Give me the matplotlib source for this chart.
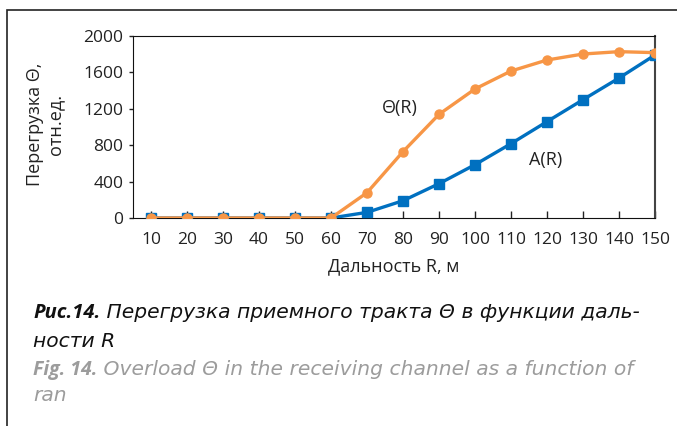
import numpy as np
import matplotlib

matplotlib.use("Agg")
import matplotlib.pyplot as plt
from matplotlib import font_manager
from matplotlib.patches import Rectangle

# data
ranges = [10, 20, 30, 40, 50, 60, 70, 80, 90, 100, 110, 120, 130, 140, 150]
theta_values = [0, 0, 0, 0, 0, 0, 278, 729, 1139, 1418, 1615, 1736, 1802, 1828, 1817]
a_values = [0, 0, 0, 0, 0, 0, 62, 190, 377, 586, 817, 1059, 1300, 1538, 1791]
y_ticks = [0, 400, 800, 1200, 1600, 2000]

caption_ru_bold = "Рис.14."
caption_ru_rest = " Перегрузка приемного тракта Θ в функции даль-"
caption_ru_line2 = "ности R"
caption_en_bold = "Fig. 14."
caption_en_rest = " Overload Θ in the receiving channel as a function of"
caption_en_line2 = "ran"

BLUE = "#0070C0"
ORANGE = "#F79646"
GREY = "#9C9C9C"
INK = "#222222"

installed = {f.name for f in font_manager.fontManager.ttflist}
plot_font = "Open Sans" if "Open Sans" in installed else "DejaVu Sans"
bold_font = plot_font
rest_font = "DejaVu Sans"
REST_SIZE = 14.6

plt.rcParams["font.family"] = [plot_font, "DejaVu Sans"]

W, H = 677, 426
fig = plt.figure(figsize=(W / 100, H / 100), dpi=100)

# outer frame (open at right/bottom edges like the scan)
fig.patches.append(Rectangle((7 / W, -0.05), 1.1, 1.05 - 10 / H, transform=fig.transFigure,
                             fill=False, edgecolor="#222222", linewidth=1.2))

ax = fig.add_axes([133 / W, 1 - 218 / H, (655 - 133) / W, (218 - 36) / H])

ax.plot(ranges, a_values, color=BLUE, linewidth=2.4, marker="s", markersize=6.5,
        zorder=3)
ax.plot(ranges, theta_values, color=ORANGE, linewidth=2.4, marker="o", markersize=6.5,
        zorder=4)

ax.set_xlim(5, 150)
ax.set_ylim(0, 2000)
ax.set_xticks(ranges)
ax.set_yticks(y_ticks)
ax.tick_params(axis="x", direction="in", length=5, width=1, labelsize=12.5, pad=10,
               colors=INK)
ax.tick_params(axis="y", direction="out", length=3, width=1, labelsize=12.5, pad=4,
               colors=INK)
for side in ["left", "bottom", "top"]:
    ax.spines[side].set_color("#111111")
ax.spines["right"].set_color("#444444")
ax.spines["right"].set_linewidth(1.5)

ax.set_xlabel("Дальность R, м", fontsize=13, labelpad=7, color=INK)
ax.set_ylabel("Перегрузка Θ,\nотн.ед.", fontsize=13, color=INK, linespacing=1.15)
ax.yaxis.label.set_va("center")
ax.yaxis.set_label_coords(-0.169, 0.516)

ax.text(79, 1209, "Θ(R)", fontsize=13, color=INK, ha="center", va="center")
ax.text(119.5, 637, "A(R)", fontsize=13, color=INK, ha="center", va="center")

# caption
fig.canvas.draw()
renderer = fig.canvas.get_renderer()


def caption_line(x_px, y_px, bold_text, bold_size, rest_text, color):
    t = fig.text(x_px / W, 1 - y_px / H, bold_text, fontsize=bold_size, fontweight="bold",
                 fontstyle="italic", family=bold_font, color=color, va="baseline")
    bb = t.get_window_extent(renderer)
    fig.text(bb.x1 / W, 1 - y_px / H, rest_text, fontsize=REST_SIZE, fontstyle="italic",
             family=rest_font, color=color, va="baseline")


caption_line(33, 318, caption_ru_bold, 14.5, caption_ru_rest, "#111111")
fig.text(33 / W, 1 - 347 / H, caption_ru_line2, fontsize=REST_SIZE, fontstyle="italic",
         family=rest_font, color="#111111", va="baseline")
caption_line(33, 375, caption_en_bold, 14, caption_en_rest, GREY)
fig.text(33 / W, 1 - 401 / H, caption_en_line2, fontsize=REST_SIZE, fontstyle="italic",
         family=rest_font, color=GREY, va="baseline")

fig.savefig("out.png", dpi=100)
